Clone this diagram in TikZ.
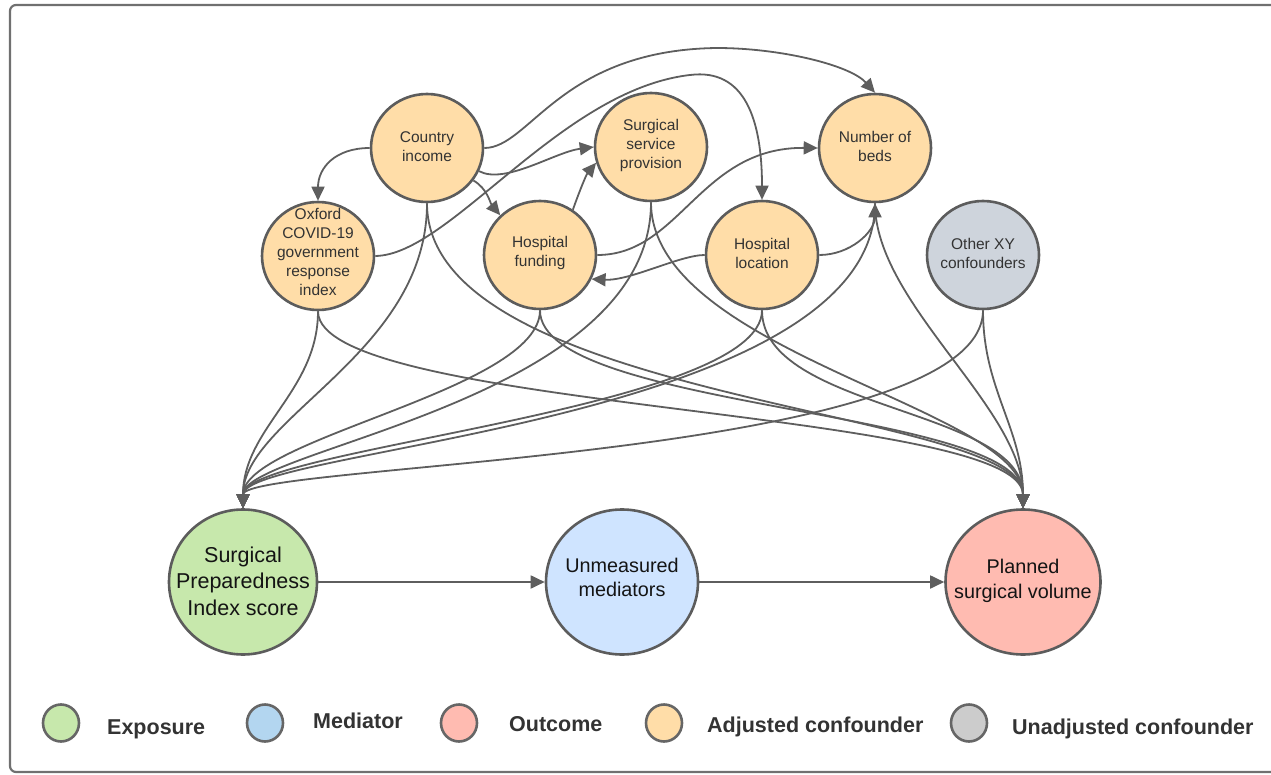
\documentclass[tikz,border=0pt]{standalone}
\usepackage{fontspec}
\setmainfont{Liberation Sans}
\usetikzlibrary{shapes.geometric,arrows.meta}
\definecolor{edgecol}{HTML}{5E5E5E}
\definecolor{bordercol}{HTML}{5C5C5C}
\definecolor{framecol}{HTML}{707070}
\definecolor{orangefill}{HTML}{FFDDA8}
\definecolor{grayfill}{HTML}{CED4DC}
\definecolor{greenfill}{HTML}{C7E8AC}
\definecolor{bluefill}{HTML}{CFE4FF}
\definecolor{redfill}{HTML}{FFBBB1}
\definecolor{legblue}{HTML}{B3D6F0}
\definecolor{leggray}{HTML}{CCCCCC}
\definecolor{textgray}{HTML}{333333}
\begin{document}
\begin{tikzpicture}[x=1pt,y=-1pt,
  nd/.style={ellipse,draw=bordercol,line width=2.6pt,inner sep=0pt},
  conf/.style={nd,fill=orangefill,minimum width=112pt,minimum height=108pt},
  big/.style={nd,minimum width=148pt,minimum height=145pt},
  leg/.style={nd,minimum width=36pt,minimum height=37pt,draw=black!60},
  txt/.style={align=center,text=textgray,inner sep=0pt,yshift=1.8pt,font=\fontsize{15.5}{19}\selectfont},
  bigtxt/.style={align=center,text=black!92,inner sep=0pt},
  legtxt/.style={anchor=base west,text=textgray,inner sep=0pt,font=\fontsize{21.5}{24}\selectfont\bfseries},
  e/.style={draw=edgecol,line width=1.8pt,-{Triangle[length=14pt,width=13pt]}}]
\useasboundingbox (0,0) rectangle (1271,775);
\clip (0,0) rectangle (1271,775);
\draw[framecol,line width=2.2pt,rounded corners=6pt] (10,5) rectangle (1290,772);

% confounders
\node[conf] (ci) at (427,148) {};
\node[txt] at (ci) {Country\\income};
\node[conf] (ssp) at (651,147) {};
\node[txt] at (ssp) {Surgical\\service\\provision};
\node[conf] (nb) at (875,148) {};
\node[txt] at (nb) {Number of\\beds};
\node[conf] (oxf) at (318,256) {};
\node[txt,yshift=1.8pt] at (oxf) {Oxford\\COVID-19\\government\\response\\index};
\node[conf] (hf) at (540,255) {};
\node[txt] at (hf) {Hospital\\funding};
\node[conf] (loc) at (762,255) {};
\node[txt] at (loc) {Hospital\\location};
\node[conf,fill=grayfill] (oxy) at (983,255) {};
\node[txt] at (oxy) {Other XY\\confounders};

% main nodes
\node[big,fill=greenfill] (spi) at (243,582) {};
\node[bigtxt,font=\fontsize{21.5}{26.2}\selectfont] at ([yshift=0.8pt]spi.center) {Surgical\\Preparedness\\Index score};
\node[big,fill=bluefill,minimum width=152pt] (um) at (622,582) {};
\node[bigtxt,font=\fontsize{19.8}{24.5}\selectfont] at ([yshift=4.5pt]um.center) {Unmeasured\\mediators};
\node[big,fill=redfill,minimum width=155pt] (psv) at (1023,582) {};
\node[bigtxt,font=\fontsize{19.8}{24.5}\selectfont] at ([yshift=1pt]psv.center) {Planned\\surgical volume};

% edges among confounders
\draw[e] (ci.west) .. controls (335,148) and (318,168) .. (oxf.north);
\draw[e] (ci.-35) .. controls +(14,8) and +(-10,-12) .. (hf.135);
\draw[e] (ci.-24) .. controls (505,185) and (555,152) .. (ssp.west);
\draw[e] (ci.east) .. controls (530,148) and (560,50) .. (717,48) .. controls (780,48) and (850,65) .. (nb.north);
\draw[e] (oxf.east) .. controls (450,255) and (560,90) .. (690,75) .. controls (745,68) and (762,120) .. (loc.north);
\draw[e] (hf.54) .. controls (578,195) and (586,175) .. (ssp.196);
\draw[e] (hf.east) .. controls (680,255) and (700,147) .. (nb.west);
\draw[e] (loc.west) .. controls (680,255) and (630,281) .. (hf.-25);
\draw[e] (loc.east) .. controls (850,255) and (875,232) .. (nb.south);

% confounders to exposure
\draw[e] (ci.south) .. controls +(0,150) and +(0,-90) .. (spi.north);
\draw[e] (oxf.south) .. controls +(0,80) and +(0,-80) .. (spi.north);
\draw[e] (hf.south) .. controls +(0,80) and +(0,-70) .. (spi.north);
\draw[e] (ssp.south) .. controls +(0,200) and +(0,-60) .. (spi.north);
\draw[e] (loc.south) .. controls +(0,100) and +(0,-60) .. (spi.north);
\draw[e] (nb.south) .. controls +(0,220) and +(0,-60) .. (spi.north);
\draw[e] (oxy.south) .. controls +(0,150) and +(0,-45) .. (spi.north);

% confounders to outcome
\draw[e] (ci.south) .. controls +(0,200) and +(0,-100) .. (psv.north);
\draw[e] (oxf.south) .. controls +(0,100) and +(0,-100) .. (psv.north);
\draw[e] (hf.south) .. controls +(0,100) and +(0,-100) .. (psv.north);
\draw[e] (ssp.south) .. controls +(0,150) and +(0,-100) .. (psv.north);
\draw[e] (loc.south) .. controls +(0,100) and +(0,-100) .. (psv.north);
\draw[e] (nb.south) .. controls +(0,100) and +(0,-100) .. (psv.north);
\draw[e] (oxy.south) .. controls +(0,80) and +(0,-80) .. (psv.north);

% causal path
\draw[e] (spi.east) -- (um.west);
\draw[e] (um.east) -- (psv.west);

% legend
\node[leg,fill=greenfill] (l1) at (61,723) {};
\node[legtxt] at (107,734.5) {Exposure};
\node[leg,fill=legblue] (l2) at (265,723) {};
\node[legtxt] at (313,728.5) {Mediator};
\node[leg,fill=redfill] (l3) at (459,723) {};
\node[legtxt] at (509,731.5) {Outcome};
\node[leg,fill=orangefill] (l4) at (664,723) {};
\node[legtxt] at (707,732.5) {Adjusted confounder};
\node[leg,fill=leggray] (l5) at (969,723) {};
\node[legtxt] at (1012,734.5) {Unadjusted confounder};
\end{tikzpicture}
\end{document}
